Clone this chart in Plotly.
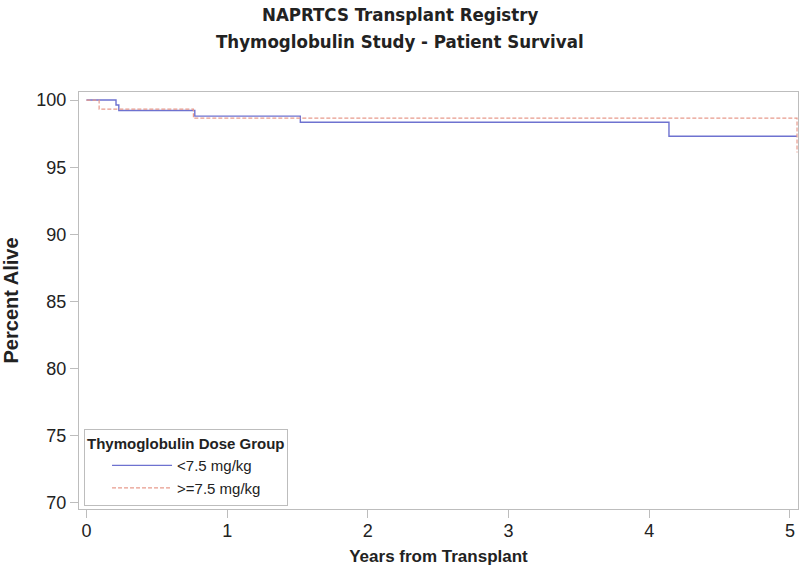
import plotly.graph_objects as go

# Kaplan-Meier style step data (years, percent alive)
low_dose_years = [0, 0.21, 0.23, 0.77, 1.52, 4.14, 5.05]
low_dose_pct = [100, 99.63, 99.22, 98.8, 98.35, 97.3, 97.3]

high_dose_years = [0, 0.09, 0.76, 5.05, 5.05]
high_dose_pct = [100, 99.32, 98.65, 98.65, 96.1]

series_names = ["<7.5 mg/kg", ">=7.5 mg/kg"]
x_ticks = [0, 1, 2, 3, 4, 5]
y_ticks = [70, 75, 80, 85, 90, 95, 100]
title_lines = ["NAPRTCS Transplant Registry", "Thymoglobulin Study - Patient Survival"]

FONT = "Liberation Sans, Arial, sans-serif"
TITLE_FONT = "DejaVu Sans Condensed, Liberation Sans, sans-serif"
TXT = "#222222"
GRID = "#BDBDBD"

fig = go.Figure()
fig.add_trace(go.Scatter(
    x=low_dose_years, y=low_dose_pct, mode="lines", line_shape="hv",
    name=series_names[0], line=dict(color="#6E72D0", width=1.4),
))
fig.add_trace(go.Scatter(
    x=high_dose_years, y=high_dose_pct, mode="lines", line_shape="hv",
    name=series_names[1], line=dict(color="#E89A8C", width=1.2, dash="4px,2px"),
))

# plot area spans screen y 92..509 (417 px)
for txt, ypx in zip(title_lines, [14, 41]):
    fig.add_annotation(
        text="<b>%s</b>" % txt, xref="paper", yref="paper",
        x=(400 - 79) / 719, y=1 + (92 - ypx) / 417,
        xanchor="center", yanchor="middle", showarrow=False,
        font=dict(family=TITLE_FONT, size=18.5, color=TXT),
    )

fig.update_layout(
    width=800, height=575,
    paper_bgcolor="white", plot_bgcolor="white",
    margin=dict(l=79, r=2, t=92, b=66),
    font=dict(family=FONT, color=TXT, size=17),
    xaxis=dict(
        range=[-0.053, 5.057], tickvals=x_ticks, showgrid=False, zeroline=False,
        showline=True, linecolor=GRID, linewidth=1.2, mirror=True,
        ticks="outside", ticklen=8, tickcolor=GRID, tickwidth=1.2,
        tickfont=dict(size=18, color=TXT), automargin=False, ticklabelstandoff=-3,
        title=dict(text="<b>Years from Transplant</b>", font=dict(size=17, color=TXT), standoff=10),
    ),
    yaxis=dict(
        range=[69.55, 100.6], tickvals=y_ticks, showgrid=False, zeroline=False,
        showline=True, linecolor=GRID, linewidth=1.2, mirror=True,
        ticks="outside", ticklen=8, tickcolor=GRID, tickwidth=1.2,
        tickfont=dict(size=18, color=TXT), automargin=False,
        title=dict(text="<b>Percent Alive</b>", font=dict(size=20, color=TXT), standoff=12),
    ),
    legend=dict(
        x=0.007, y=0.008, xanchor="left", yanchor="bottom",
        bgcolor="white", bordercolor=GRID, borderwidth=1,
        title=dict(text="<b>Thymoglobulin Dose Group</b>", font=dict(size=15, color=TXT)),
        font=dict(size=15, color=TXT),
        indentation=22, itemwidth=60, tracegroupgap=0,
    ),
    showlegend=True,
)

fig.write_html("out.html", post_script="document.body.style.margin='0px';",
               config={"displayModeBar": False})
